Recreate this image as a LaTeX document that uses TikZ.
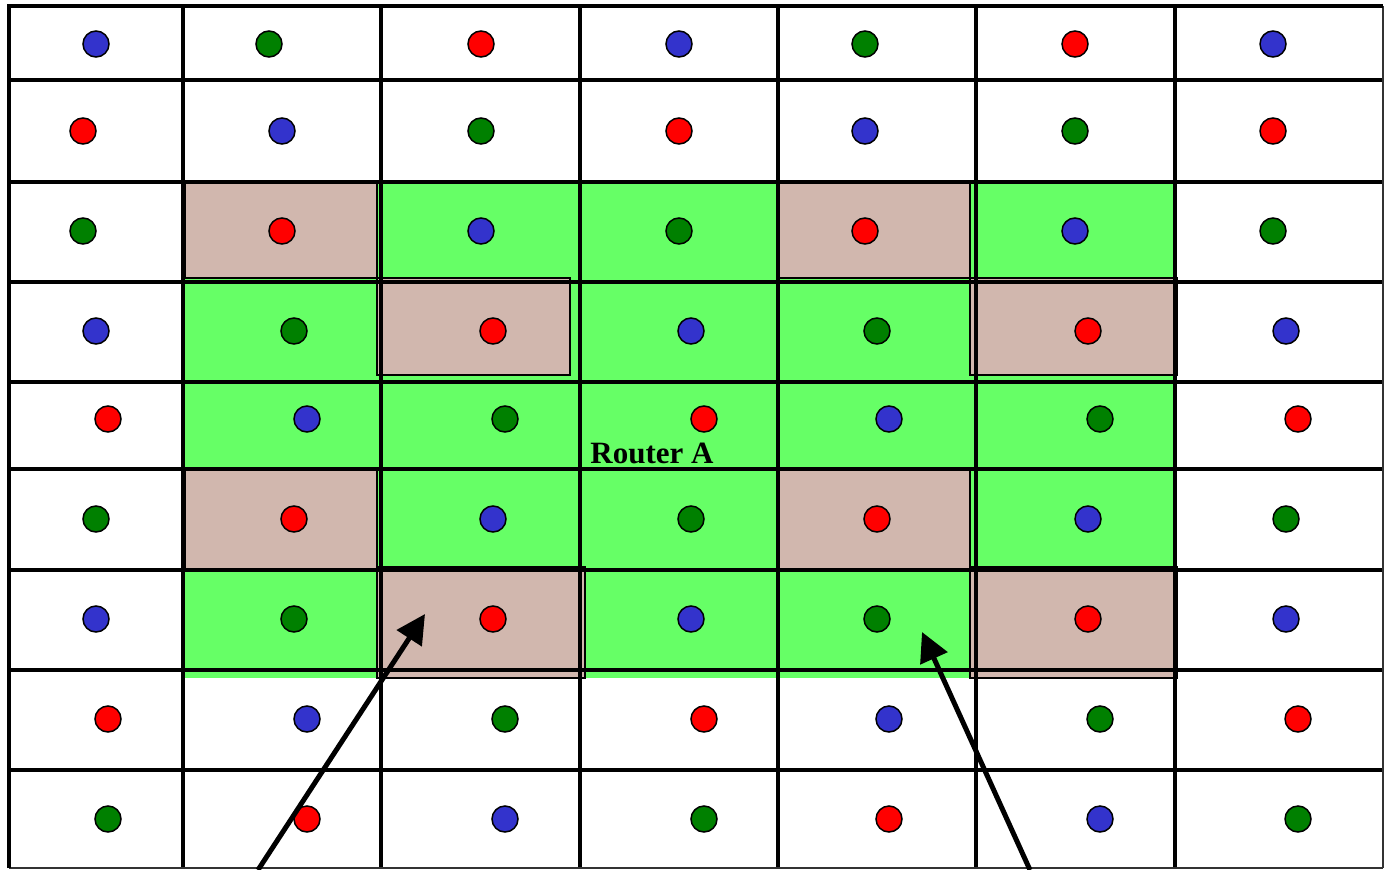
\documentclass[tikz,border=0pt]{standalone}
\usepackage{fontspec}
\setmainfont{Liberation Serif}
\usetikzlibrary{arrows.meta}
\definecolor{dotblue}{RGB}{51,51,204}
\definecolor{dotgreen}{RGB}{0,128,0}
\definecolor{dotred}{RGB}{255,0,0}
\definecolor{zonegreen}{RGB}{102,255,102}
\definecolor{zonebrown}{RGB}{209,183,174}
\tikzset{
  dot/.style={circle,draw=black,line width=1.5pt,minimum size=26pt,inner sep=0pt},
  B/.style={dot,fill=dotblue},
  G/.style={dot,fill=dotgreen},
  R/.style={dot,fill=dotred},
  gridline/.style={line width=4pt},
  thinedge/.style={line width=1.5pt,black!80},
  brownbox/.style={fill=zonebrown,draw=black,line width=1.8pt},
  pointer/.style={line width=5pt,-{Triangle[length=29pt,width=29pt]}},
}
\begin{document}
\begin{tikzpicture}[x=1pt,y=-1pt]
\useasboundingbox (0,0) rectangle (1384,870);
\fill[white] (0,0) rectangle (1384,870);
% green zone
\fill[zonegreen] (185,182) rectangle (1177,678);
% brown cells
\draw[brownbox] (185,182) rectangle (377,278);
\draw[brownbox] (778,182) rectangle (970,278);
\draw[brownbox] (377,278) rectangle (570,375);
\draw[brownbox] (970,278) rectangle (1177,375);
\draw[brownbox] (185,469) rectangle (377,570);
\draw[brownbox] (778,469) rectangle (970,570);
\draw[brownbox] (377,567) rectangle (585,678);
\draw[brownbox] (970,567) rectangle (1177,678);
% grid
\foreach \x in {183,381,580,778,976,1175} \draw[gridline] (\x,6) -- (\x,868);
\foreach \y in {80,182,282,382,469,570,670,770} \draw[gridline] (9,\y) -- (1383,\y);
\draw[thinedge] (1383,6) -- (1383,868);
\draw[thinedge] (9,868) -- (1383,868);
\draw[line width=4.5pt] (9,868) -- (9,6) -- (1383,6);
% dots
\foreach \x/\s [count=\i] in {96/B,269/G,481/R,679/B,865/G,1075/R,1273/B}
  \node[\s] (d1-\i) at (\x,44) {};
\foreach \x/\s [count=\i] in {83/R,282/B,481/G,679/R,865/B,1075/G,1273/R}
  \node[\s] (d2-\i) at (\x,131) {};
\foreach \x/\s [count=\i] in {83/G,282/R,481/B,679/G,865/R,1075/B,1273/G}
  \node[\s] (d3-\i) at (\x,231) {};
\foreach \x/\s [count=\i] in {96/B,294/G,493/R,691/B,877/G,1088/R,1286/B}
  \node[\s] (d4-\i) at (\x,331) {};
\foreach \x/\s [count=\i] in {108/R,307/B,505/G,704/R,889/B,1100/G,1298/R}
  \node[\s] (d5-\i) at (\x,419) {};
\foreach \x/\s [count=\i] in {96/G,294/R,493/B,691/G,877/R,1088/B,1286/G}
  \node[\s] (d6-\i) at (\x,519) {};
\foreach \x/\s [count=\i] in {96/B,294/G,493/R,691/B,877/G,1088/R,1286/B}
  \node[\s] (d7-\i) at (\x,619) {};
\foreach \x/\s [count=\i] in {108/R,307/B,505/G,704/R,889/B,1100/G,1298/R}
  \node[\s] (d8-\i) at (\x,719) {};
\foreach \x/\s [count=\i] in {108/G,307/R,505/B,704/G,889/R,1100/B,1298/G}
  \node[\s] (d9-\i) at (\x,819) {};
% label
\node[anchor=base,inner sep=0pt,font=\fontsize{31}{36}\selectfont\bfseries] (router) at (652,463) {Router A};
% arrows
\coordinate (a1s) at (258,870);
\coordinate (a1e) at (425,614);
\coordinate (a2s) at (1030,870);
\coordinate (a2e) at (922,632);
\draw[pointer] (a1s) -- (a1e);
\draw[pointer] (a2s) -- (a2e);
\end{tikzpicture}
\end{document}
